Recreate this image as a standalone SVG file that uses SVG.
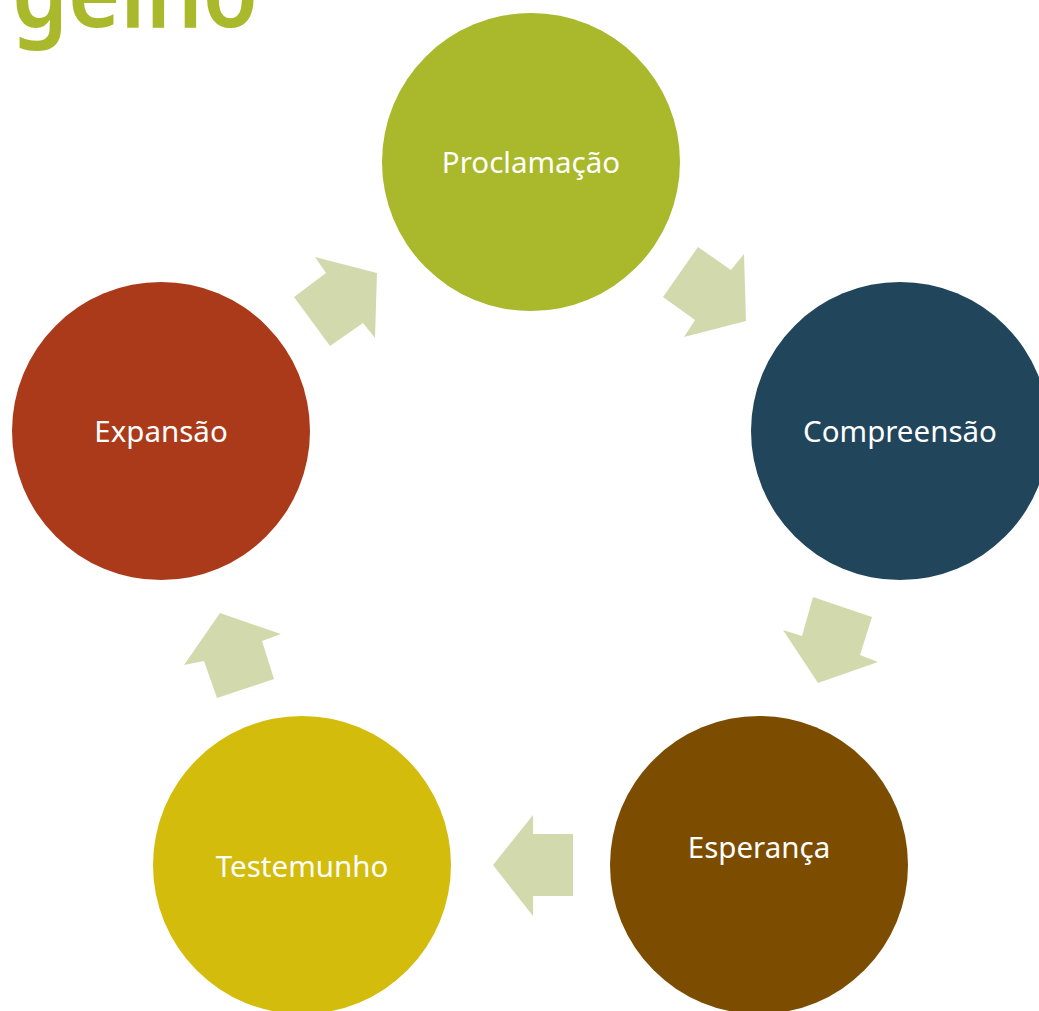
<svg xmlns="http://www.w3.org/2000/svg" width="1039" height="1011" viewBox="0 0 1039 1011">
<style>
.lbl{font-family:"Noto Sans","Open Sans",sans-serif;font-size:29.5px;fill:#ffffff;text-anchor:middle}
.arr{fill:#D2DAAD}
</style>
<rect width="1039" height="1011" fill="#ffffff"/>
<text x="12" y="27" font-family="Noto Sans, sans-serif" font-size="100" font-weight="600" fill="#A9B92B" textLength="246" lengthAdjust="spacingAndGlyphs">gelho</text>
<g id="connectors">
<polygon class="arr" points="698,247 731,270 744,254 746,321 684,337 695,320 663,297"/>
<polygon class="arr" points="813,597 872,617 860,655 878,662 818,683 783,630 802,636"/>
<polygon class="arr" points="493,865 533,815 533,834 573,834 573,896 533,896 533,916"/>
<polygon class="arr" points="220,613 281,634 262,641 274,679 217,698 204,661 184,665"/>
<polygon class="arr" points="315,257 377,273 375,338 363,323 330,346 294,297 326,273"/>
</g>
<g id="proclamacao"><circle cx="531" cy="162" r="149" fill="#A9B92B"/><text class="lbl" x="531" y="173">Proclamação</text></g>
<g id="compreensao"><circle cx="900" cy="431" r="149" fill="#21455B"/><text class="lbl" x="900" y="442">Compreensão</text></g>
<g id="esperanca"><circle cx="759" cy="865" r="149" fill="#7C4D00"/><text class="lbl" x="759" y="858">Esperança</text></g>
<g id="testemunho"><circle cx="302" cy="865" r="149" fill="#D3BC0C"/><text class="lbl" x="302" y="877">Testemunho</text></g>
<g id="expansao"><circle cx="161" cy="431" r="149" fill="#AB3A1A"/><text class="lbl" x="161" y="442">Expansão</text></g>
</svg>
